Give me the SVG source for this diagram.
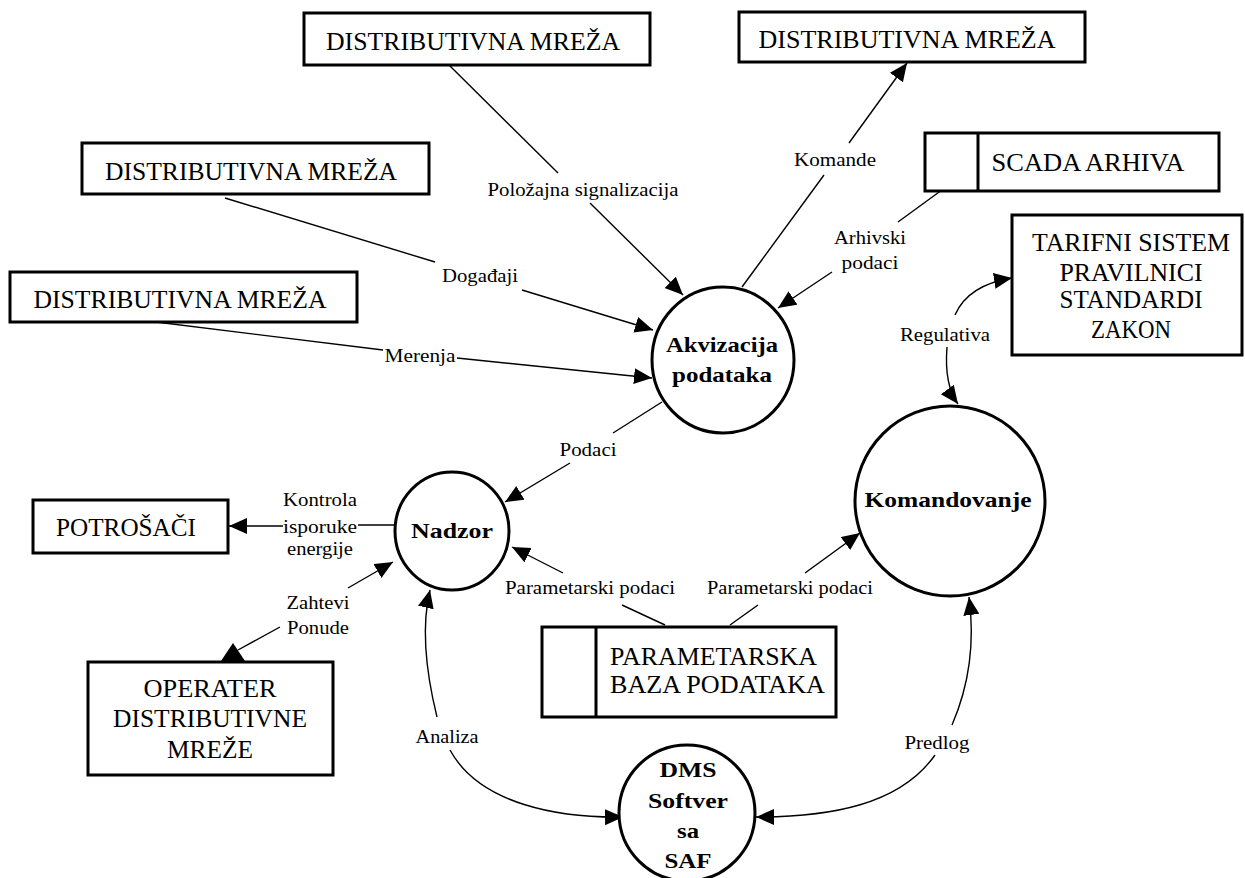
<svg xmlns="http://www.w3.org/2000/svg" width="1245" height="878" viewBox="0 0 1245 878">
<style>
.box{fill:#fff;stroke:#000;stroke-width:3}
.circ{fill:#fff;stroke:#000;stroke-width:3}
.bt{font-family:"Liberation Serif",serif;font-size:25px;fill:#000;text-anchor:middle}
.ct{font-family:"Liberation Serif",serif;font-size:22px;font-weight:bold;fill:#000;text-anchor:middle}
.lt{font-family:"Liberation Serif",serif;font-size:18px;fill:#000;text-anchor:middle}
.ln{fill:none;stroke:#000;stroke-width:1.4}
.ar{fill:none;stroke:#000;stroke-width:1.4;marker-end:url(#ah)}
</style>
<defs>
<marker id="ah" markerUnits="userSpaceOnUse" markerWidth="20" markerHeight="18" refX="18" refY="8" orient="auto">
<path d="M0,0 L18,8 L0,16 Z" fill="#000"/>
</marker>
</defs>
<rect width="1245" height="878" fill="#fff"/>

<g id="connectors">
<line class="ln" x1="449" y1="65" x2="558" y2="173"/>
<line class="ar" x1="590" y1="203" x2="683" y2="295"/>
<line class="ln" x1="742" y1="287" x2="824" y2="175"/>
<line class="ar" x1="849" y1="143" x2="907" y2="63"/>
<line class="ln" x1="946" y1="187" x2="898" y2="222"/>
<line class="ar" x1="832" y1="272" x2="778" y2="308"/>
<line class="ln" x1="225" y1="198" x2="435" y2="262"/>
<line class="ar" x1="522" y1="290" x2="653" y2="330"/>
<line class="ln" x1="156" y1="322" x2="383" y2="350"/>
<line class="ar" x1="457" y1="358" x2="652" y2="378"/>
<line class="ln" x1="662" y1="402" x2="613" y2="433"/>
<line class="ar" x1="570" y1="463" x2="505" y2="502"/>
<line class="ln" x1="395" y1="525" x2="358" y2="525"/>
<line class="ar" x1="283" y1="526" x2="229" y2="526"/>
<line class="ar" x1="348" y1="588" x2="393" y2="562"/>
<line class="ln" x1="280" y1="627" x2="238" y2="650"/>
<path d="M233,643 L221,661 L245,661 Z" fill="#000"/>
<line class="ln" x1="665" y1="625" x2="622" y2="605"/>
<line class="ar" x1="563" y1="573" x2="512" y2="547"/>
<line class="ln" x1="730" y1="625" x2="758" y2="605"/>
<line class="ar" x1="805" y1="573" x2="860" y2="533"/>
<path class="ar" d="M955,315 Q968,285 1012,278"/>
<path class="ar" d="M947,347 Q944,385 958,404"/>
<path class="ar" d="M437,717 Q418,640 430,590"/>
<path class="ar" d="M450,750 C480,805 560,818 623,817"/>
<path class="ar" d="M952,725 Q978,665 969,597"/>
<path class="ar" d="M935,755 C900,805 830,817 756,817"/>
<text class="lt" x="583" y="196" textLength="191" lengthAdjust="spacingAndGlyphs">Položajna signalizacija</text>
<text class="lt" x="835" y="166" textLength="82" lengthAdjust="spacingAndGlyphs">Komande</text>
<text class="lt" x="870" y="244" textLength="72" lengthAdjust="spacingAndGlyphs">Arhivski</text>
<text class="lt" x="870" y="269" textLength="57" lengthAdjust="spacingAndGlyphs">podaci</text>
<text class="lt" x="480" y="282" textLength="76" lengthAdjust="spacingAndGlyphs">Događaji</text>
<text class="lt" x="420" y="362" textLength="71" lengthAdjust="spacingAndGlyphs">Merenja</text>
<text class="lt" x="588" y="456" textLength="57" lengthAdjust="spacingAndGlyphs">Podaci</text>
<text class="lt" x="320" y="506" textLength="74" lengthAdjust="spacingAndGlyphs">Kontrola</text>
<text class="lt" x="320" y="533" textLength="74" lengthAdjust="spacingAndGlyphs">isporuke</text>
<text class="lt" x="320" y="555" textLength="66" lengthAdjust="spacingAndGlyphs">energije</text>
<text class="lt" x="318" y="609" textLength="63" lengthAdjust="spacingAndGlyphs">Zahtevi</text>
<text class="lt" x="318" y="634" textLength="62" lengthAdjust="spacingAndGlyphs">Ponude</text>
<text class="lt" x="590" y="594" textLength="170" lengthAdjust="spacingAndGlyphs">Parametarski podaci</text>
<text class="lt" x="790" y="594" textLength="166" lengthAdjust="spacingAndGlyphs">Parametarski podaci</text>
<text class="lt" x="447" y="743" textLength="63" lengthAdjust="spacingAndGlyphs">Analiza</text>
<text class="lt" x="937" y="749" textLength="65" lengthAdjust="spacingAndGlyphs">Predlog</text>
<text class="lt" x="945" y="341" textLength="90" lengthAdjust="spacingAndGlyphs">Regulativa</text>
</g>

<g id="dist-mreza-1">
<rect class="box" x="304" y="13" width="346" height="52"/>
<text class="bt" x="473" y="50" textLength="294" lengthAdjust="spacingAndGlyphs">DISTRIBUTIVNA MREŽA</text>
</g>
<g id="dist-mreza-2">
<rect class="box" x="739" y="12" width="346" height="50"/>
<text class="bt" x="907" y="48" textLength="297" lengthAdjust="spacingAndGlyphs">DISTRIBUTIVNA MREŽA</text>
</g>
<g id="dist-mreza-3">
<rect class="box" x="82" y="143" width="347" height="51"/>
<text class="bt" x="251" y="180" textLength="292" lengthAdjust="spacingAndGlyphs">DISTRIBUTIVNA MREŽA</text>
</g>
<g id="dist-mreza-4">
<rect class="box" x="10" y="272" width="347" height="50"/>
<text class="bt" x="180" y="308" textLength="293" lengthAdjust="spacingAndGlyphs">DISTRIBUTIVNA MREŽA</text>
</g>
<g id="scada-arhiva">
<rect class="box" x="925" y="133" width="294" height="58"/>
<line x1="978" y1="133" x2="978" y2="191" stroke="#000" stroke-width="3"/>
<text class="bt" x="1088" y="171" textLength="193" lengthAdjust="spacingAndGlyphs">SCADA ARHIVA</text>
</g>
<g id="tarifni">
<rect class="box" x="1012" y="215" width="230" height="140"/>
<text class="bt" x="1131" y="251" textLength="198" lengthAdjust="spacingAndGlyphs">TARIFNI SISTEM</text>
<text class="bt" x="1131" y="281" textLength="143" lengthAdjust="spacingAndGlyphs">PRAVILNICI</text>
<text class="bt" x="1131" y="308" textLength="143" lengthAdjust="spacingAndGlyphs">STANDARDI</text>
<text class="bt" x="1131" y="338" textLength="80" lengthAdjust="spacingAndGlyphs">ZAKON</text>
</g>
<g id="potrosaci">
<rect class="box" x="33" y="500" width="195" height="53"/>
<text class="bt" x="126" y="536" textLength="140" lengthAdjust="spacingAndGlyphs">POTROŠAČI</text>
</g>
<g id="operater">
<rect class="box" x="88" y="662" width="245" height="113"/>
<text class="bt" x="210" y="697" textLength="133" lengthAdjust="spacingAndGlyphs">OPERATER</text>
<text class="bt" x="210" y="727" textLength="194" lengthAdjust="spacingAndGlyphs">DISTRIBUTIVNE</text>
<text class="bt" x="210" y="758" textLength="86" lengthAdjust="spacingAndGlyphs">MREŽE</text>
</g>
<g id="parametarska-baza">
<rect class="box" x="542" y="627" width="294" height="90"/>
<line x1="596" y1="627" x2="596" y2="717" stroke="#000" stroke-width="3"/>
<text class="bt" x="610" y="665" style="text-anchor:start" textLength="207" lengthAdjust="spacingAndGlyphs">PARAMETARSKA</text>
<text class="bt" x="610" y="693" style="text-anchor:start" textLength="215" lengthAdjust="spacingAndGlyphs">BAZA PODATAKA</text>
</g>
<g id="akvizacija">
<ellipse class="circ" cx="723" cy="360" rx="71" ry="73"/>
<text class="ct" x="722" y="352" textLength="112" lengthAdjust="spacingAndGlyphs">Akvizacija</text>
<text class="ct" x="722" y="382" textLength="100" lengthAdjust="spacingAndGlyphs">podataka</text>
</g>
<g id="nadzor">
<ellipse class="circ" cx="452" cy="531" rx="57" ry="59"/>
<text class="ct" x="452" y="538" textLength="82" lengthAdjust="spacingAndGlyphs">Nadzor</text>
</g>
<g id="komandovanje">
<circle class="circ" cx="950" cy="501" r="95"/>
<text class="ct" x="948" y="507" textLength="167" lengthAdjust="spacingAndGlyphs">Komandovanje</text>
</g>
<g id="dms">
<circle class="circ" cx="687" cy="813" r="68"/>
<text class="ct" x="688" y="777" textLength="57" lengthAdjust="spacingAndGlyphs">DMS</text>
<text class="ct" x="688" y="808" textLength="80" lengthAdjust="spacingAndGlyphs">Softver</text>
<text class="ct" x="688" y="838" textLength="22" lengthAdjust="spacingAndGlyphs">sa</text>
<text class="ct" x="688" y="868" textLength="47" lengthAdjust="spacingAndGlyphs">SAF</text>
</g>
</svg>
